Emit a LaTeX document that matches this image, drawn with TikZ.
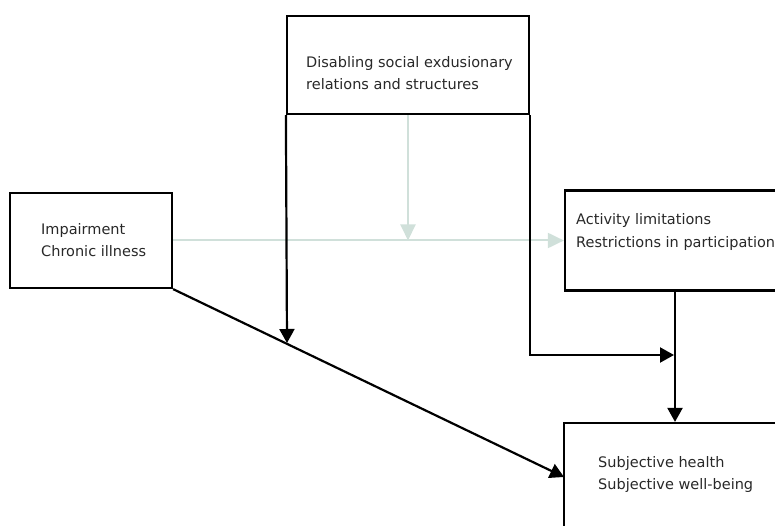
\documentclass[tikz,border=0pt]{standalone}
\usepackage{fontspec}
\setmainfont{DejaVu Sans}
\usepackage{tikz}
\usetikzlibrary{
  arrows.meta,
  calc
}
\usepackage{xcolor}
\definecolor{boxline}{RGB}{0, 0, 0}
\definecolor{paleline}{RGB}{208, 224, 218}
\definecolor{txtclr}{RGB}{40, 40, 40}
\tikzset{
  % Qutilar
  boxnode/.style   = {rectangle, draw=boxline, line width=2.2pt, inner sep=0pt},
  % Strelkalar
  mainarrow/.style = {-{Triangle[length=14pt,width=15pt]}, line width=2.2pt, draw=boxline},
  palearrow/.style = {-{Triangle[length=16pt,width=15pt]}, line width=2pt, draw=paleline},
  % Matnlar
  lab/.style       = {font=\fontsize{14.5}{22}\selectfont, align=left, inner sep=0pt, anchor=west, text=txtclr},
}

\begin{document}
\begin{tikzpicture}[x=1pt,y=-1pt]
  \useasboundingbox (0,0) rectangle (775,526);
  % Qutilar
  \node[boxnode, minimum width=242pt, minimum height=98pt]  (social) at (408,65)    {};
  \node[boxnode, minimum width=162pt, minimum height=95pt]  (impair) at (91,240.5)  {};
  \node[boxnode, minimum width=220pt, minimum height=100pt] (activ)  at (675,240.5) {};
  \node[boxnode, minimum width=222pt, minimum height=140pt] (subj)   at (675,493)   {};
  % Matnlar
  \node[lab] (socialtxt) at (306,73.5) {Disabling social exdusionary\\relations and structures};
  \node[lab] (impairtxt) at (41,240)   {Impairment\\Chronic illness};
  \node[lab] (activtxt)  at (576,232)  {Activity limitations\\Restrictions in participation};
  \node[lab] (subjtxt)   at (598,474)  {Subjective health\\Subjective well-being};
  % Uchlar
  \coordinate (hitL)  at (287,343);
  \coordinate (joinR) at (674,355);
  \coordinate (subjL) at (564,477);
  % Och rangli strelkalar
  \draw[palearrow] (impair.east) -- (activ.west);
  \draw[palearrow] (social.south) -- (social.south |- impair.east);
  % Qora strelkalar
  \draw[mainarrow] (impair.south east) -- (subjL);
  \draw[mainarrow] (social.south west) -- (hitL);
  \draw[mainarrow] (social.south east) |- (joinR);
  \draw[mainarrow] (activ.south) -- (subj.north);
\end{tikzpicture}
\end{document}
